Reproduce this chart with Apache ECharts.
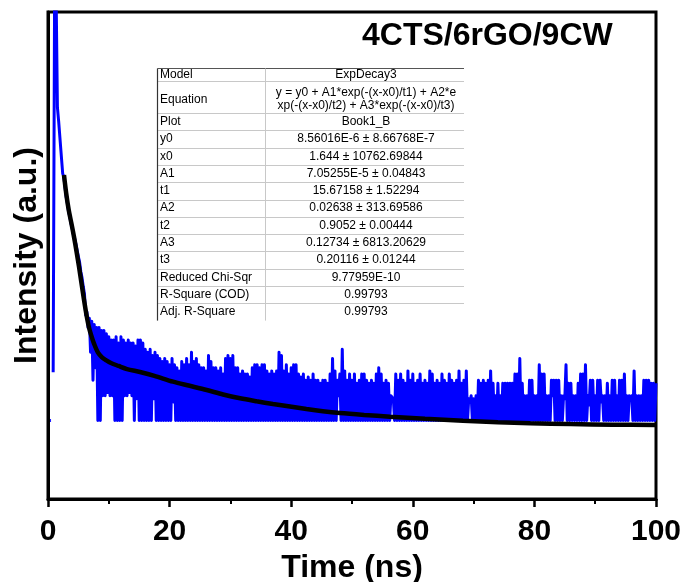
<!DOCTYPE html>
<html>
<head>
<meta charset="utf-8">
<script src="https://cdn.jsdelivr.net/npm/echarts@6/dist/echarts.min.js"></script>
<style>
  html, body { margin: 0; padding: 0; background: #fff; }
  #chart { width: 684px; height: 582px; }
</style>
</head>
<body>
<div id="chart"></div>
<script>
// ---- data ---------------------------------------------------------------
const xTicks = [0, 20, 40, 60, 80, 100];

// Decay record, rising edge and early decay (time in ns, intensity in a.u.)
const headX = [0.35, 0.5, 0.6, 0.85, 1.12, 1.2, 1.55, 1.75, 2.1, 2.42, 2.6, 2.8, 3.0, 3.2, 3.4, 3.6, 3.8,
               4.0, 4.2, 4.4, 4.6, 4.8, 5.0, 5.2, 5.4, 5.6, 5.8, 6.0];
const headY = [0, 0, '-', 7.8, 78, 80, 50.5, 48.3, 43.8, 39.8, 39.4, 37.6, 36.0, 35.0, 33.6, 32.8, 31.7,
               30.9, 29.9, 29.3, 28.4, 27.4, 26.4, 25.5, 24.0, 23.0, 21.6, 20.4];

// Decay record, tail: alternating low / high channel readings from 6.2 ns on,
// one base-36 character per reading, in half-unit steps.
const tailStart = 6.2;
const tailStep = 0.2;
const levelStep = 0.5;
const tailLow =
  "yumdh00889 8800008898 0700000070 0000006000 0000000000 0000000000 0000000000 " +
  "0000000000 0000000000 0000000000 0000800000 0000000000 0000008000 0000000000 " +
  "0000000000 0000000060 0000000000 0000000000 0000000000 0080000700 0000000500 " +
  "0060000000 0000700000 00000";
const tailHigh =
  "zxwvuuttsr qqrprqpqpp oqqpnmnlml kjkjikihgj ikimjkihhg ljhhghfklk lhhfgffehi " +
  "ihiigfgfgm lgifhiifef dedfddcddc fkgdfngdfd fcdffdcdcf hfcdc87fdf dcgdfcdfcd " +
  "cgfcdcfdcf dcdgcdg787 8dcdcdgc8c 8cccccffkc 88dd88iff8 8dddd88icc 88cffi8dd8 " +
  "dd88c8dd8d df888g888d ddccc";

// ExpDecay3 fit curve
const fitX = [2.63, 3.0, 3.4, 3.85, 4.28, 4.7, 5.1, 5.5, 5.9, 6.3, 6.74, 7.15, 7.57, 8.2, 8.88, 9.6,
              10.36, 11.6, 12.99, 15.13, 17.5, 20.56, 23.3, 26.1, 28.8, 31.6, 34.3, 37.0, 39.8, 42.5,
              45.2, 48.0, 52.0, 56.25, 62.0, 68.25, 74.0, 79.3, 86.0, 93.0, 100.0];
const fitY = [39.6, 36.6, 34.0, 31.8, 29.6, 27.2, 24.8, 22.2, 19.6, 17.2, 15.0, 13.6, 12.4, 11.0, 10.2, 9.7,
              9.27, 8.8, 8.3, 7.82, 7.2, 6.26, 5.6, 4.92, 4.2, 3.58, 3.1, 2.66, 2.25, 1.85,
              1.5, 1.21, 0.9, 0.61, 0.28, -0.03, -0.27, -0.45, -0.58, -0.67, -0.73];

// Fit report
const tableLabels = ['Model', 'Equation', 'Plot', 'y0', 'x0', 'A1', 't1', 'A2', 't2', 'A3', 't3',
                     'Reduced Chi-Sqr', 'R-Square (COD)', 'Adj. R-Square'];
const tableValues = ['ExpDecay3',
                     'y = y0 + A1*exp(-(x-x0)/t1) + A2*e\nxp(-(x-x0)/t2) + A3*exp(-(x-x0)/t3)',
                     'Book1_B',
                     '8.56016E-6 ± 8.66768E-7',
                     '1.644 ± 10762.69844',
                     '7.05255E-5 ± 0.04843',
                     '15.67158 ± 1.52294',
                     '0.02638 ± 313.69586',
                     '0.9052 ± 0.00444',
                     '0.12734 ± 6813.20629',
                     '0.20116 ± 0.01244',
                     '9.77959E-10',
                     '0.99793',
                     '0.99793'];
const sampleName = '4CTS/6rGO/9CW';

// ---- build series -------------------------------------------------------
const decay = headX.map((x, i) => [x, headY[i]]);
const lowCodes = tailLow.replace(/\s/g, '');
const highCodes = tailHigh.replace(/\s/g, '');
const nPairs = Math.min(lowCodes.length, highCodes.length);
for (let j = 0; j < nPairs; j++) {
  const t0 = +(tailStart + 2 * j * tailStep).toFixed(2);
  const t1 = +(tailStart + (2 * j + 1) * tailStep).toFixed(2);
  decay.push([t0, parseInt(lowCodes[j], 36) * levelStep]);
  decay.push([t1, parseInt(highCodes[j], 36) * levelStep]);
}
const fit = fitX.map((x, i) => [x, fitY[i]]);

// ---- fit report table (graphic elements) --------------------------------
const FONT = '"Liberation Sans", Arial, sans-serif';
const tLeft = 157.5, tRight = 464, tCol = 265.5;
const edges = [68.5, 81, 113];
for (let k = 1; k <= 12; k++) edges.push(113 + 17.3 * k);
const tableEls = [];
for (let i = 1; i < edges.length - 1; i++) {
  const y = Math.round(edges[i]) + 0.5;
  tableEls.push({ type: 'line', shape: { x1: tLeft, y1: y, x2: tRight, y2: y },
                  style: { stroke: '#c8c8c8', lineWidth: 1 }, silent: true });
}
tableEls.push({ type: 'line', shape: { x1: tLeft, y1: edges[0], x2: tRight, y2: edges[0] },
                style: { stroke: '#555', lineWidth: 1 }, silent: true });
tableEls.push({ type: 'line', shape: { x1: tCol, y1: edges[0], x2: tCol, y2: edges[edges.length - 1] },
                style: { stroke: '#c8c8c8', lineWidth: 1 }, silent: true });
tableEls.push({ type: 'line', shape: { x1: tLeft, y1: edges[0], x2: tLeft, y2: edges[edges.length - 1] },
                style: { stroke: '#333', lineWidth: 1.2 }, silent: true });
for (let i = 0; i < tableLabels.length; i++) {
  // the two-line equation row sits slightly low in its cell
  const cy = (edges[i] + edges[i + 1]) / 2 + (i === 1 ? 2.5 : 0);
  tableEls.push({ type: 'text', silent: true,
                  style: { text: tableLabels[i], x: 160, y: cy, fill: '#000',
                           font: '12px ' + FONT, align: 'left', verticalAlign: 'middle' } });
  tableEls.push({ type: 'text', silent: true,
                  style: { text: tableValues[i], x: 366, y: cy, fill: '#000', lineHeight: 13,
                           font: '12px ' + FONT, align: 'center', verticalAlign: 'middle' } });
}

// ---- chart --------------------------------------------------------------
const chart = echarts.init(document.getElementById('chart'), null, { renderer: 'canvas' });
chart.setOption({
  animation: false,
  grid: { left: 48, top: 12, width: 608, height: 487, show: true, outerBoundsMode: 'none',
          containLabel: false,
          borderColor: '#000', borderWidth: 3, backgroundColor: 'transparent' },
  xAxis: {
    type: 'value', min: xTicks[0], max: xTicks[xTicks.length - 1], interval: xTicks[1] - xTicks[0],
    axisLine: { show: true, onZero: false, lineStyle: { color: '#000', width: 3 } },
    axisTick: { show: true, inside: false, length: 8, lineStyle: { color: '#000', width: 2.5 } },
    minorTick: { show: true, splitNumber: 2, length: 5, lineStyle: { color: '#000', width: 2 } },
    axisLabel: { color: '#000', fontSize: 30, fontWeight: 'bold', fontFamily: FONT,
                 margin: 18, lineHeight: 30 },
    splitLine: { show: false }, minorSplitLine: { show: false },
    name: 'Time (ns)', nameLocation: 'middle', nameGap: 65,
    nameTextStyle: { color: '#000', fontSize: 32, fontWeight: 'bold', fontFamily: FONT,
                     verticalAlign: 'middle', lineHeight: 32 }
  },
  yAxis: {
    type: 'value', min: -12.66, max: 65.89,
    axisLine: { show: true, onZero: false, lineStyle: { color: '#000', width: 3 } },
    axisTick: { show: false }, axisLabel: { show: false }, splitLine: { show: false },
    name: 'Intensity (a.u.)', nameLocation: 'middle', nameGap: 21,
    nameTextStyle: { color: '#000', fontSize: 32, fontWeight: 'bold', fontFamily: FONT,
                     verticalAlign: 'middle', lineHeight: 32 }
  },
  series: [
    { name: 'Book1_B', type: 'line', data: decay, showSymbol: false, symbol: 'none',
      connectNulls: false, clip: true, sampling: null, z: 2,
      lineStyle: { color: '#0000ff', width: 3, join: 'round' } },
    { name: 'ExpDecay3 fit', type: 'line', data: fit, showSymbol: false, symbol: 'none',
      smooth: 0.3, clip: true, z: 3,
      lineStyle: { color: '#000', width: 4.5 } }
  ],
  graphic: [
    { type: 'group', z: 10, children: tableEls },
    { type: 'text', z: 10, silent: true,
      style: { text: sampleName, x: 362, y: 36, fill: '#000', font: 'bold 32px ' + FONT,
               align: 'left', verticalAlign: 'middle' } }
  ]
});
</script>
</body>
</html>
